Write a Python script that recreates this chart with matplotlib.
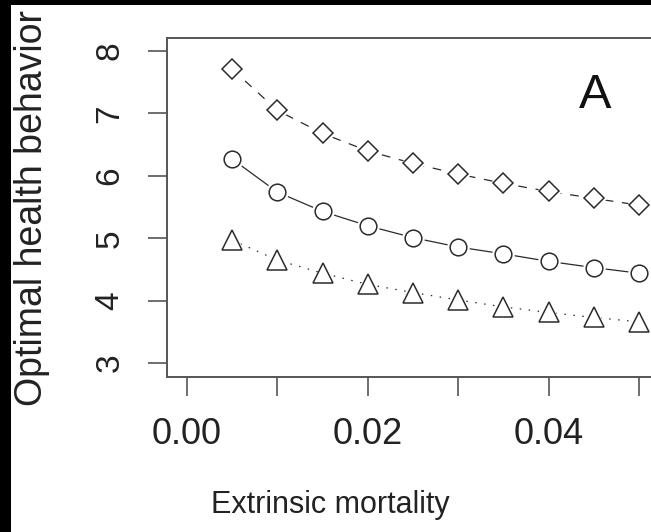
import matplotlib
matplotlib.use('Agg')
import matplotlib.pyplot as plt
from matplotlib.patches import Rectangle

# ---- data ----
mortality = [0.005, 0.010, 0.015, 0.020, 0.025, 0.030, 0.035, 0.040, 0.045, 0.050]
upper = [7.71, 7.05, 6.68, 6.40, 6.20, 6.03, 5.88, 5.75, 5.64, 5.53]
middle = [6.27, 5.74, 5.43, 5.20, 5.01, 4.86, 4.75, 4.63, 4.53, 4.44]
lower = [4.97, 4.65, 4.44, 4.26, 4.13, 4.01, 3.90, 3.81, 3.73, 3.66]
x_ticks = [0.00, 0.01, 0.02, 0.03, 0.04, 0.05]
x_tick_labels = ['0.00', '', '0.02', '', '0.04', '']
y_ticks = [3, 4, 5, 6, 7, 8]
y_tick_labels = ['3', '4', '5', '6', '7', '8']
x_label = 'Extrinsic mortality'
y_label = 'Optimal health behavior'
panel_label = 'A'

plt.rcParams['font.family'] = ['Liberation Sans', 'DejaVu Sans']

W, H = 651, 532
fig = plt.figure(figsize=(W / 100, H / 100), dpi=100)
fig.patch.set_facecolor('white')

ax = fig.add_axes([167 / W, 155 / H, 499 / W, 339 / H])
ax.set_xlim(-0.00221, 0.0530)
ax.set_ylim(2.776, 8.21)

ink = '#2b2b2b'
spine = '#555555'

series = [
    (upper, 'D', 10, (0, (7, 7))),
    (middle, 'o', 12, '-'),
    (lower, '^', 14, (0, (1.2, 6))),
]
for vals, mk, ms, ls in series:
    ax.plot(mortality, vals, linestyle=ls, color=ink, linewidth=0.9, zorder=1)
    ax.plot(mortality, vals, linestyle='none', marker=mk, markersize=ms * 1.35,
            markerfacecolor='white', markeredgecolor='none', zorder=2)
    ax.plot(mortality, vals, linestyle='none', marker=mk, markersize=ms,
            markerfacecolor='white', markeredgecolor=ink, markeredgewidth=1.1, zorder=3)

ax.text(595 / W * 1.0, 1 - 96 / H, panel_label, transform=fig.transFigure,
        fontsize=35, color='#111111', ha='center', va='center')

ax.set_xticks(x_ticks)
ax.set_xticklabels(x_tick_labels)
ax.set_yticks(y_ticks)
ax.set_yticklabels(y_tick_labels, rotation=90, va='center')

ax.tick_params(axis='x', direction='out', length=14, width=1.2, color=spine,
               labelsize=26, pad=15, labelcolor='#222222')
ax.tick_params(axis='y', direction='out', length=14, width=1.2, color=spine,
               labelsize=24, pad=16, labelcolor='#222222')

for s in ax.spines.values():
    s.set_color(spine)
    s.set_linewidth(1.4)

fig.text(330 / W, (H - 513) / H, x_label, fontsize=22, color='#222222',
         ha='center', va='baseline')
fig.text(42 / W, 1 - 208 / H, y_label, fontsize=27, color='#222222',
         rotation=90, rotation_mode='anchor', ha='center', va='baseline')

# black scanning borders
fig.patches.append(Rectangle((0, 0), 11 / W, 1, transform=fig.transFigure,
                             facecolor='black', edgecolor='none', zorder=10))
fig.patches.append(Rectangle((0, 1 - 5 / H), 1, 5 / H, transform=fig.transFigure,
                             facecolor='black', edgecolor='none', zorder=10))

fig.savefig('out.png', dpi=100)
